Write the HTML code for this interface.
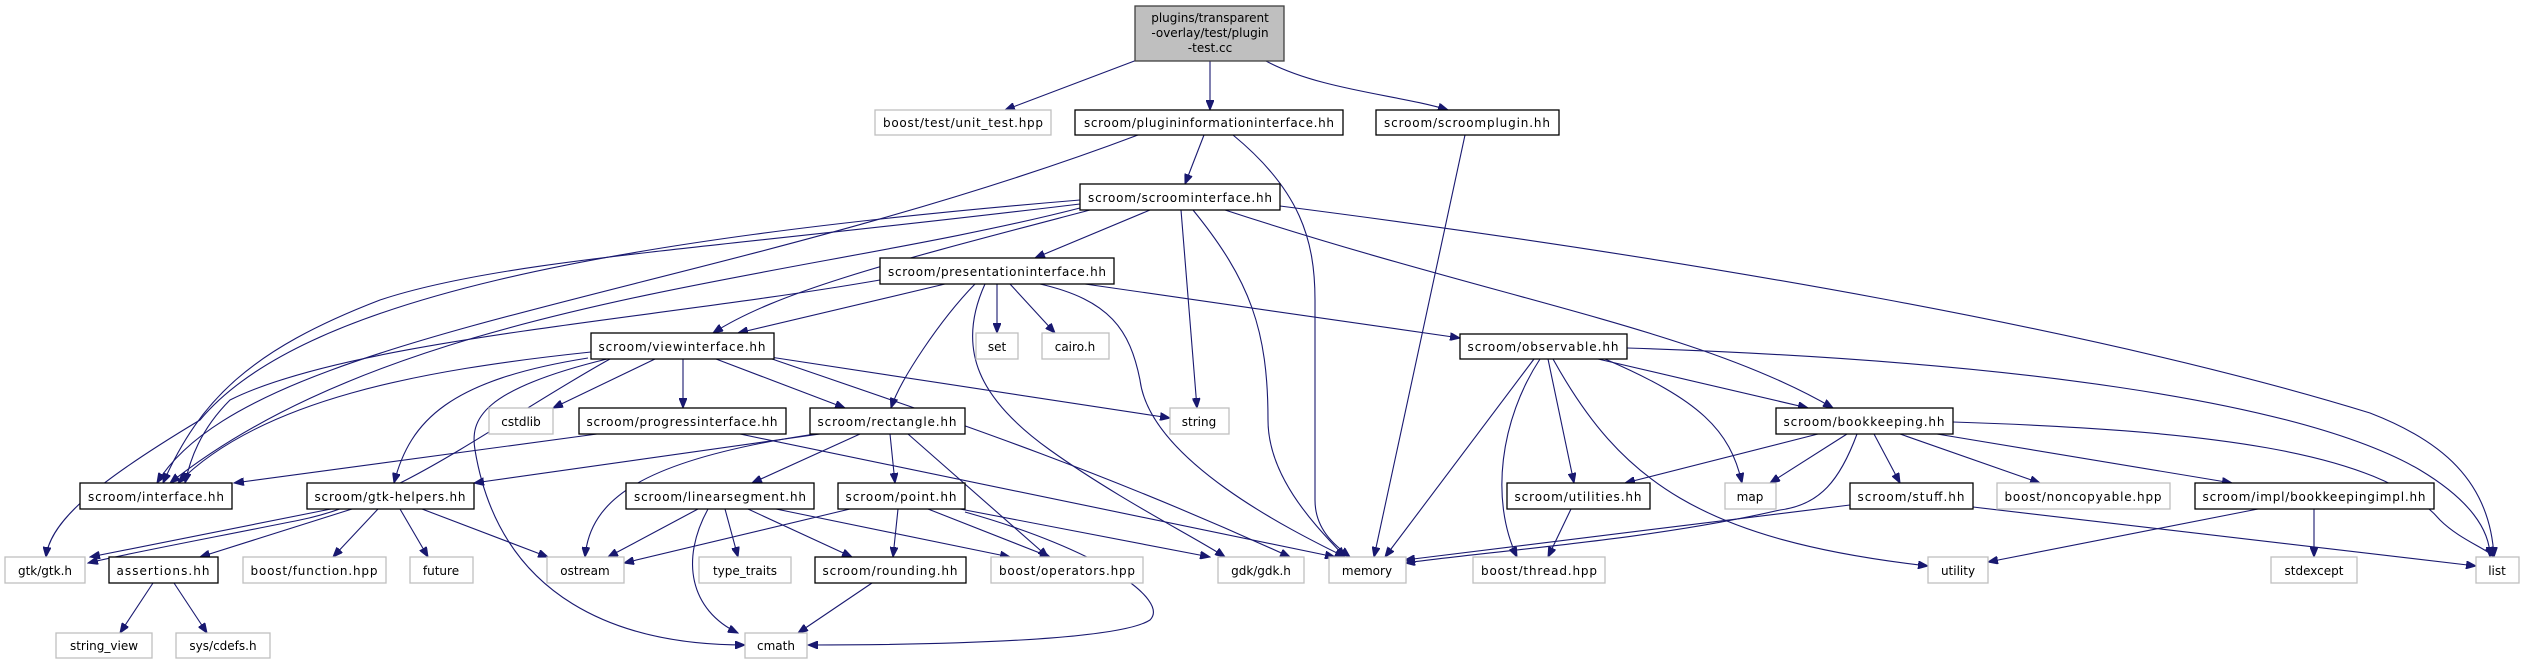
<!DOCTYPE html>
<html><head><meta charset="utf-8"><style>
html,body{margin:0;padding:0;background:#fff;}
svg{display:block;}
text{font-family:"DejaVu Sans","Liberation Sans",sans-serif;font-size:12px;fill:#000;}
.n{fill:#fff;stroke:#000;stroke-width:1.3;}
.g{fill:#fff;stroke:#bfbfbf;stroke-width:1.3;}
.e{fill:none;stroke:#191970;stroke-width:1.1;}
</style></head><body>
<svg width="2524" height="664" viewBox="0 0 2524 664" xmlns="http://www.w3.org/2000/svg">
<defs><marker id="a" markerWidth="11" markerHeight="8" refX="10" refY="4" orient="auto" markerUnits="userSpaceOnUse"><path d="M0,0 L10,4 L0,8 z" fill="#191970" stroke="#191970"/></marker></defs>
<g class="e" marker-end="url(#a)">
<path d="M1137,60 L1005,110"/>
<path d="M1210,61 L1210,110"/>
<path d="M1266,61 C1320,90 1400,95 1448,110"/>
<path d="M1204,135 L1185,184"/>
<path d="M1138,135 C700,300 250,330 157,483"/>
<path d="M1233,135 C1300,190 1315,240 1315,300 L1315,500 C1315,530 1335,545 1350,557"/>
<path d="M1465,135 L1374,557"/>
<path d="M1150,210 L1035,258"/>
<path d="M1090,210 C900,260 780,290 713,333"/>
<path d="M1080,204 C700,250 500,260 380,300 C250,350 200,400 163,483"/>
<path d="M1080,208 C800,280 400,300 170,483"/>
<path d="M1080,200 C600,240 300,300 200,420 C100,480 50,520 46,557"/>
<path d="M1181,210 L1197,408"/>
<path d="M1193,210 C1250,280 1268,330 1268,420 C1268,480 1320,530 1345,557"/>
<path d="M1225,210 C1500,300 1700,330 1833,408"/>
<path d="M1280,206 C1700,260 2100,330 2370,413 C2440,440 2490,480 2494,557"/>
<path d="M945,284 L738,333"/>
<path d="M880,280 C650,320 350,340 230,400 C200,430 190,460 185,483"/>
<path d="M997,284 L997,333"/>
<path d="M1010,284 L1055,333"/>
<path d="M975,284 C940,320 900,380 891,408"/>
<path d="M985,284 C955,350 980,400 1050,450 C1120,500 1200,540 1225,557"/>
<path d="M1040,284 C1110,300 1130,330 1140,380 C1150,460 1290,530 1345,557"/>
<path d="M1085,284 L1460,338"/>
<path d="M591,352 C420,370 260,400 178,483"/>
<path d="M610,359 C500,420 400,500 300,520 C200,540 120,555 88,563"/>
<path d="M588,358 C450,380 410,420 394,483"/>
<path d="M607,359 C480,390 470,420 475,450 C500,600 620,645 745,645"/>
<path d="M655,359 L553,408"/>
<path d="M683,359 L683,408"/>
<path d="M716,359 L845,408"/>
<path d="M770,357 L1170,418"/>
<path d="M772,359 C950,420 1100,470 1290,557"/>
<path d="M597,434 L234,483"/>
<path d="M740,434 L1335,557"/>
<path d="M820,434 L474,483"/>
<path d="M815,434 C640,460 590,500 585,557"/>
<path d="M860,434 L752,483"/>
<path d="M890,434 L895,483"/>
<path d="M908,434 L1048,557"/>
<path d="M698,509 L608,557"/>
<path d="M708,509 C680,560 690,610 738,633"/>
<path d="M725,509 L738,557"/>
<path d="M748,509 L852,557"/>
<path d="M776,509 L1010,557"/>
<path d="M850,509 L624,563"/>
<path d="M898,509 L893,557"/>
<path d="M928,509 L1050,557"/>
<path d="M960,509 L1210,557"/>
<path d="M965,512 C1100,550 1170,600 1150,620 C1120,640 950,645 808,645"/>
<path d="M331,509 L90,557"/>
<path d="M352,509 L200,557"/>
<path d="M378,509 L333,557"/>
<path d="M400,509 L428,557"/>
<path d="M422,509 L548,557"/>
<path d="M153,583 L120,633"/>
<path d="M174,583 L207,633"/>
<path d="M872,583 L798,633"/>
<path d="M1534,359 L1385,557"/>
<path d="M1540,359 C1500,420 1490,500 1517,557"/>
<path d="M1548,359 L1574,483"/>
<path d="M1553,359 C1620,480 1700,540 1928,566"/>
<path d="M1598,359 L1808,408"/>
<path d="M1605,359 C1700,400 1730,430 1742,483"/>
<path d="M1627,348 C2000,360 2300,400 2420,470 C2470,500 2490,530 2490,557"/>
<path d="M1818,434 L1625,483"/>
<path d="M1847,434 L1770,483"/>
<path d="M1857,434 C1840,480 1820,505 1780,510 C1650,540 1500,550 1405,563"/>
<path d="M1874,434 L1900,483"/>
<path d="M1900,434 L2040,483"/>
<path d="M1937,434 L2232,483"/>
<path d="M1953,422 C2200,430 2380,450 2440,520 C2460,540 2490,550 2493,557"/>
<path d="M1571,509 L1548,557"/>
<path d="M1850,505 L1405,560"/>
<path d="M1973,507 L2476,566"/>
<path d="M2258,509 L1988,562"/>
<path d="M2314,509 L2314,557"/>
</g>
<rect x="1135" y="6" width="149" height="55" fill="#bfbfbf" stroke="#404040" stroke-width="1.3"/>
<text x="1210" y="22" text-anchor="middle">plugins/transparent</text>
<text x="1210" y="37" text-anchor="middle">-overlay/test/plugin</text>
<text x="1210" y="52" text-anchor="middle">-test.cc</text>
<g>
<rect class="g" x="875" y="110" width="176" height="25"/><text x="963" y="127" text-anchor="middle" textLength="160">boost/test/unit_test.hpp</text>
<rect class="n" x="1075" y="110" width="268" height="25"/><text x="1209" y="127" text-anchor="middle" textLength="250">scroom/plugininformationinterface.hh</text>
<rect class="n" x="1376" y="110" width="183" height="25"/><text x="1467" y="127" text-anchor="middle" textLength="166">scroom/scroomplugin.hh</text>
<rect class="n" x="1080" y="184" width="200" height="26"/><text x="1180" y="202" text-anchor="middle" textLength="184">scroom/scroominterface.hh</text>
<rect class="n" x="880" y="258" width="234" height="26"/><text x="997" y="276" text-anchor="middle" textLength="218">scroom/presentationinterface.hh</text>
<rect class="n" x="591" y="333" width="183" height="26"/><text x="682" y="351" text-anchor="middle" textLength="167">scroom/viewinterface.hh</text>
<rect class="g" x="976" y="333" width="42" height="26"/><text x="997" y="351" text-anchor="middle">set</text>
<rect class="g" x="1042" y="333" width="67" height="26"/><text x="1075" y="351" text-anchor="middle">cairo.h</text>
<rect class="n" x="1460" y="334" width="167" height="25"/><text x="1543" y="351" text-anchor="middle" textLength="151">scroom/observable.hh</text>
<rect class="g" x="489" y="408" width="64" height="26"/><text x="521" y="426" text-anchor="middle">cstdlib</text>
<rect class="n" x="579" y="408" width="207" height="26"/><text x="682" y="426" text-anchor="middle" textLength="191">scroom/progressinterface.hh</text>
<rect class="n" x="810" y="408" width="155" height="26"/><text x="887" y="426" text-anchor="middle" textLength="139">scroom/rectangle.hh</text>
<rect class="g" x="1170" y="408" width="59" height="26"/><text x="1199" y="426" text-anchor="middle">string</text>
<rect class="n" x="1776" y="408" width="177" height="26"/><text x="1864" y="426" text-anchor="middle" textLength="161">scroom/bookkeeping.hh</text>
<rect class="n" x="80" y="483" width="152" height="26"/><text x="156" y="501" text-anchor="middle" textLength="136">scroom/interface.hh</text>
<rect class="n" x="307" y="483" width="167" height="26"/><text x="390" y="501" text-anchor="middle" textLength="151">scroom/gtk-helpers.hh</text>
<rect class="n" x="626" y="483" width="188" height="26"/><text x="720" y="501" text-anchor="middle" textLength="172">scroom/linearsegment.hh</text>
<rect class="n" x="838" y="483" width="127" height="26"/><text x="901" y="501" text-anchor="middle" textLength="111">scroom/point.hh</text>
<rect class="n" x="1507" y="483" width="143" height="26"/><text x="1578" y="501" text-anchor="middle" textLength="127">scroom/utilities.hh</text>
<rect class="g" x="1725" y="483" width="51" height="26"/><text x="1750" y="501" text-anchor="middle">map</text>
<rect class="n" x="1850" y="483" width="123" height="26"/><text x="1911" y="501" text-anchor="middle" textLength="107">scroom/stuff.hh</text>
<rect class="g" x="1997" y="483" width="173" height="26"/><text x="2083" y="501" text-anchor="middle" textLength="157">boost/noncopyable.hpp</text>
<rect class="n" x="2195" y="483" width="239" height="26"/><text x="2314" y="501" text-anchor="middle" textLength="223">scroom/impl/bookkeepingimpl.hh</text>
<rect class="g" x="5" y="557" width="80" height="26"/><text x="45" y="575" text-anchor="middle">gtk/gtk.h</text>
<rect class="n" x="109" y="557" width="109" height="26"/><text x="163" y="575" text-anchor="middle" textLength="93">assertions.hh</text>
<rect class="g" x="243" y="557" width="143" height="26"/><text x="314" y="575" text-anchor="middle" textLength="127">boost/function.hpp</text>
<rect class="g" x="410" y="557" width="63" height="26"/><text x="441" y="575" text-anchor="middle">future</text>
<rect class="g" x="547" y="557" width="77" height="26"/><text x="585" y="575" text-anchor="middle">ostream</text>
<rect class="g" x="699" y="557" width="92" height="26"/><text x="745" y="575" text-anchor="middle">type_traits</text>
<rect class="n" x="815" y="557" width="151" height="26"/><text x="890" y="575" text-anchor="middle" textLength="135">scroom/rounding.hh</text>
<rect class="g" x="991" y="557" width="152" height="26"/><text x="1067" y="575" text-anchor="middle" textLength="136">boost/operators.hpp</text>
<rect class="g" x="1218" y="557" width="86" height="26"/><text x="1261" y="575" text-anchor="middle">gdk/gdk.h</text>
<rect class="g" x="1329" y="557" width="77" height="26"/><text x="1367" y="575" text-anchor="middle">memory</text>
<rect class="g" x="1473" y="557" width="132" height="26"/><text x="1539" y="575" text-anchor="middle" textLength="116">boost/thread.hpp</text>
<rect class="g" x="1928" y="557" width="60" height="26"/><text x="1958" y="575" text-anchor="middle">utility</text>
<rect class="g" x="2271" y="557" width="86" height="26"/><text x="2314" y="575" text-anchor="middle">stdexcept</text>
<rect class="g" x="2476" y="557" width="43" height="26"/><text x="2497" y="575" text-anchor="middle">list</text>
<rect class="g" x="56" y="633" width="96" height="25"/><text x="104" y="650" text-anchor="middle">string_view</text>
<rect class="g" x="176" y="633" width="94" height="25"/><text x="223" y="650" text-anchor="middle">sys/cdefs.h</text>
<rect class="g" x="745" y="633" width="62" height="25"/><text x="776" y="650" text-anchor="middle">cmath</text>
</g>
</svg>
</body></html>
